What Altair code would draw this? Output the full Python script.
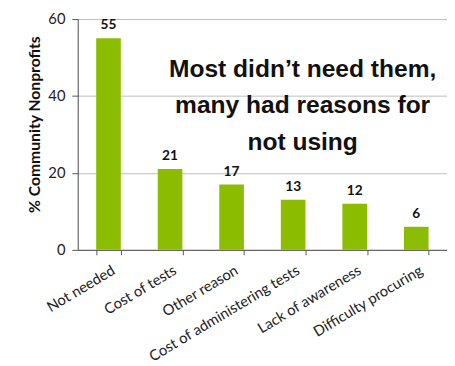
import altair as alt
import pandas as pd

categories = ["Not needed", "Cost of tests", "Other reason",
              "Cost of administering tests", "Lack of awareness", "Difficulty procuring"]
values = [55, 21, 17, 13, 12, 6]
y_ticks = [0, 20, 40, 60]
annotation = ["Most didn\u2019t need them,", "many had reasons for", "not using"]

df = pd.DataFrame({"reason": categories, "pct": values})

FONT = "Lato"

x = alt.X("reason:N", sort=categories, title=None,
          scale=alt.Scale(paddingInner=0.6, paddingOuter=0.3),
          axis=alt.Axis(labelAngle=-31, labelAlign="right", labelBaseline="top",
                        labelFont=FONT, labelFontSize=15, labelColor="#222",
                        labelPadding=8, labelOffset=1, labelLimit=400,
                        tickBand="extent", tickSize=5,
                        domainColor="#555", tickColor="#555", grid=False))
y = alt.Y("pct:Q", title="% Community Nonprofits",
          scale=alt.Scale(domain=[0, 60]),
          axis=alt.Axis(values=y_ticks, labelFont=FONT, labelFontSize=15,
                        labelColor="#222", labelPadding=7, tickSize=6,
                        domainColor="#555", tickColor="#555", gridColor="#bdbdbd",
                        titleFont=FONT, titleFontSize=16, titleFontWeight="bold",
                        titleColor="#111", titlePadding=6, titleY=107))

bars = alt.Chart(df).mark_bar(color="#8cbc00").encode(x=x, y=y)
labels = alt.Chart(df).mark_text(dy=-13, font=FONT, fontSize=14, fontWeight="bold",
                                  color="#111").encode(x=alt.X("reason:N", sort=categories),
                                                       y="pct:Q", text="pct:Q")
note = alt.Chart(pd.DataFrame({"t": [annotation]})).mark_text(
    font="Liberation Sans", fontSize=25, fontWeight="bold", color="#111",
    lineHeight=37, align="center", baseline="middle"
).encode(x=alt.value(229), y=alt.value(51), text="t")

chart = (bars + labels + note).properties(
    width=376, height=235,
    padding={"left": 71, "top": 8, "right": 0, "bottom": 115},
    autosize=alt.AutoSizeParams(type="none"),
).configure_view(stroke=None).configure(background="white")

chart.save("out.html", embed_options={"renderer": "svg", "actions": False})
